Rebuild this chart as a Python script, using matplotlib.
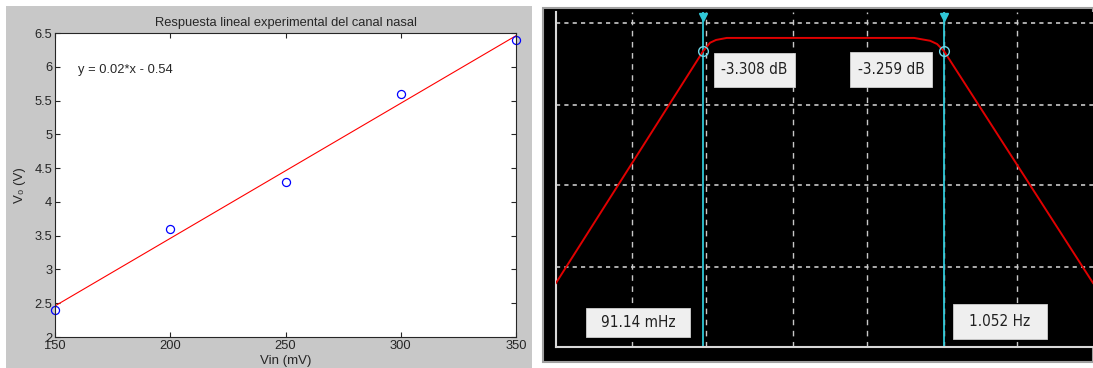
import matplotlib.pyplot as plt
import matplotlib.patches as patches
import numpy as np

# left chart: experimental linear response
vin_mv = [150, 200, 250, 300, 350]
vo_v = [2.4, 3.6, 4.3, 5.6, 6.4]
left_title = "Respuesta lineal experimental del canal nasal"
x_ticks = [150, 200, 250, 300, 350]
y_ticks = [2, 2.5, 3, 3.5, 4, 4.5, 5, 5.5, 6, 6.5]
y_ticklabels = ["2", "2.5", "3", "3.5", "4", "4.5", "5", "5.5", "6", "6.5"]

# right chart: band-pass magnitude response (log frequency, dB)
freq_hz = [0.0205, 0.09114, 0.0978, 0.104, 0.116, 0.776, 0.913, 0.980, 1.052, 4.77]
gain_db = [-60.5, -3.308, -1.2, -0.5, 0.0, 0.0, -0.7, -1.5, -3.259, -60.5]
cursor_hz = [0.09114, 1.052]
cursor_db = [-3.308, -3.259]
cursor_db_labels = ["-3.308 dB", "-3.259 dB"]
cursor_hz_labels = ["91.14 mHz", "1.052 Hz"]
grid_hz = [0.0444, 0.094, 0.227, 0.481, 1.052, 2.2]
grid_db = [3.7, -16.5, -36.3, -56.5]

W, H = 1093, 368
fig = plt.figure(figsize=(W / 100, H / 100), dpi=100)
fig.patch.set_facecolor("white")

def box(x0, y0, x1, y1):
    # pixel box (top-left origin) -> figure fraction rect
    return [x0 / W, 1 - y1 / H, (x1 - x0) / W, (y1 - y0) / H]

# ---- left panel ----
bg = patches.Rectangle((6 / W, 0), (532 - 6) / W, 1 - 6 / H, transform=fig.transFigure,
                       facecolor="#c8c8c8", edgecolor="none", zorder=-10)
fig.patches.append(bg)

ax1 = fig.add_axes(box(55, 33, 516, 337))
ax1.set_facecolor("white")
coef = np.polyfit(vin_mv, vo_v, 1)
xfit = np.array([vin_mv[0], vin_mv[-1]])
ax1.plot(xfit, np.polyval(coef, xfit), color="#ff0000", lw=0.8)
ax1.plot(vin_mv, vo_v, "o", mfc="none", mec="#0000ff", ms=5.8, mew=0.9, clip_on=False)
ax1.set_xlim(150, 350)
ax1.set_ylim(2, 6.5)
ax1.set_xticks(x_ticks)
ax1.set_xticklabels([str(t) for t in x_ticks])
ax1.set_yticks(y_ticks)
ax1.set_yticklabels(y_ticklabels)
ax1.tick_params(direction="in", top=True, right=True, length=3.5, width=0.8,
                labelsize=9.3, colors="#262626", pad=2)
for lab in ax1.get_xticklabels() + ax1.get_yticklabels():
    lab.set_family("Liberation Sans")
for s in ax1.spines.values():
    s.set_color("#262626")
    s.set_linewidth(0.8)
ax1.set_title(left_title, fontsize=9.3, family="Liberation Sans", color="#262626", pad=5)
ax1.set_xlabel("Vin (mV)", fontsize=9.5, family="Liberation Sans", color="#262626", labelpad=2)
ax1.set_ylabel("V\u2080 (V)", fontsize=9.5, family="Liberation Sans", color="#262626", labelpad=6)
ax1.text(160, 5.95, "y = %.2f*x - %.2f" % (coef[0], -coef[1]), fontsize=9.3,
         family="Liberation Sans", color="#262626", va="center", ha="left")

# ---- right panel ----
scope = patches.Rectangle((543 / W, 1 - 362 / H), (W - 543) / W, (362 - 8) / H,
                          transform=fig.transFigure, facecolor="black",
                          edgecolor="#a0a0a0", lw=1.5, zorder=-10)
fig.patches.append(scope)

ax2 = fig.add_axes(box(556, 12, 1093, 347))
ax2.set_facecolor("black")
ax2.set_xscale("log")
ax2.set_xlim(0.0205, 4.77)
ax2.set_ylim(-76.3, 6.4)
for g in grid_hz:
    ax2.axvline(g, color="#c8c8c8", lw=1, ls=(0, (4, 4)), zorder=1)
for g in grid_db:
    ax2.axhline(g, color="#c8c8c8", lw=1.2, ls=(0, (2.5, 2.5)), zorder=1)
ax2.plot(freq_hz, gain_db, color="#e00000", lw=1.4, zorder=3)
for f, d in zip(cursor_hz, cursor_db):
    ax2.axvline(f, color="#30c8d8", lw=1.3, zorder=2)
    ax2.plot(f, d, "o", mfc="none", mec="#70d8e8", ms=7, mew=1, zorder=4)
    ax2.plot(f, 5.2, "v", color="#30c8d8", ms=6, zorder=4, clip_on=False)
ax2.set_xticks([])
ax2.set_yticks([])
ax2.minorticks_off()
ax2.tick_params(which="both", length=0)
for k in ["top", "right"]:
    ax2.spines[k].set_visible(False)
for k in ["left", "bottom"]:
    ax2.spines[k].set_color("#d8d8d8")
    ax2.spines[k].set_linewidth(1.5)

# cursor readout boxes (pixel boxes in the scope window)
label_boxes = [(714, 53, 795, 87), (850, 52, 932, 87), (586, 308, 690, 337), (953, 304, 1047, 339)]
labels = cursor_db_labels + cursor_hz_labels
for (x0, y0, x1, y1), txt in zip(label_boxes, labels):
    r = box(x0, y0, x1, y1)
    fig.patches.append(patches.Rectangle((r[0], r[1]), r[2], r[3], transform=fig.transFigure,
                                         facecolor="#efefef", edgecolor="#d0d0d0", lw=0.6, zorder=5))
    fig.text(r[0] + r[2] / 2, r[1] + r[3] / 2, txt, fontsize=11,
             family="DejaVu Sans", fontstretch="condensed", color="#202020",
             ha="center", va="center", zorder=6)

fig.savefig("out.png", dpi=100)
